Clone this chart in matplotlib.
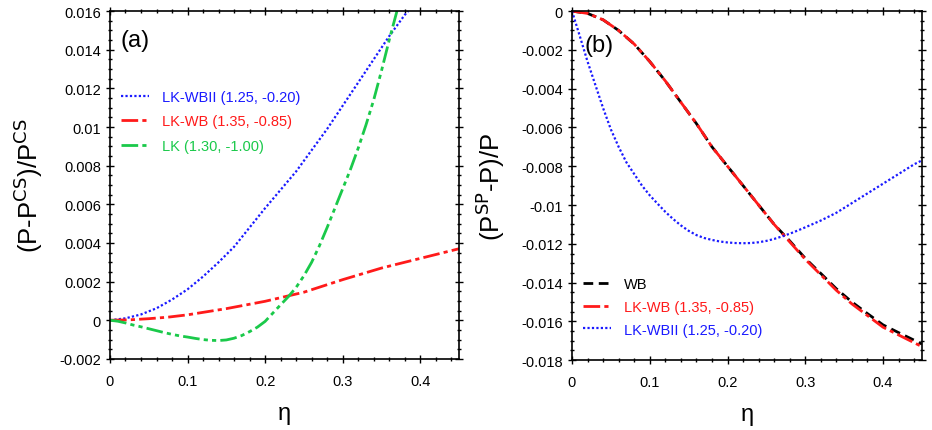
import matplotlib
matplotlib.use('Agg')
import matplotlib.pyplot as plt
from matplotlib.ticker import MultipleLocator, FuncFormatter

plt.rcParams['font.family'] = ['Liberation Sans', 'DejaVu Sans']
plt.rcParams['axes.unicode_minus'] = False

# panel (a): (P - P^CS)/P^CS
eta_wbii_a = [0, 0.02, 0.04, 0.06, 0.08, 0.10, 0.12, 0.14, 0.16, 0.18, 0.20, 0.22, 0.24,
              0.26, 0.28, 0.30, 0.32, 0.34, 0.36, 0.38, 0.3846]
dev_wbii_a = [0, 0.0001, 0.0003, 0.00062, 0.00107, 0.0016, 0.00226, 0.0030, 0.0038,
              0.0048, 0.0058, 0.00675, 0.0077, 0.0088, 0.0099, 0.0111, 0.0123, 0.0135,
              0.0147, 0.0158, 0.0160]

eta_lkwb_a = [0, 0.025, 0.05, 0.075, 0.10, 0.15, 0.20, 0.25, 0.30, 0.35, 0.40, 0.45]
dev_lkwb_a = [0, 0.00002, 0.00008, 0.00016, 0.00028, 0.0006, 0.00098, 0.00145, 0.0021,
              0.0027, 0.0032, 0.0037]

eta_lk_a = [0, 0.01, 0.02, 0.03, 0.04, 0.05, 0.06, 0.07, 0.08, 0.09, 0.10, 0.11, 0.12,
            0.13, 0.14, 0.15, 0.16, 0.17, 0.18, 0.19, 0.20, 0.21, 0.22, 0.23, 0.24, 0.25,
            0.26, 0.27, 0.28, 0.29, 0.30, 0.31, 0.32, 0.33, 0.34, 0.35, 0.36, 0.37]
dev_lk_a = [0, -0.00005, -0.00014, -0.00025, -0.00034, -0.00044, -0.00054, -0.00064,
            -0.00073, -0.00081, -0.00087, -0.00094, -0.001, -0.00104, -0.00105, -0.00102,
            -0.00093, -0.00079, -0.00059, -0.00036, -0.00006, 0.00037, 0.0008, 0.00122,
            0.0017, 0.0023, 0.0030, 0.00385, 0.0048, 0.0058, 0.0068, 0.0078, 0.0089,
            0.0101, 0.0114, 0.0129, 0.0145, 0.0160]

# panel (b): (P^SP - P)/P
eta_b = [0, 0.02, 0.04, 0.06, 0.08, 0.10, 0.12, 0.14, 0.16, 0.18, 0.20, 0.22, 0.24,
         0.26, 0.28, 0.30, 0.32, 0.34, 0.36, 0.38, 0.40, 0.42, 0.44, 0.45]
dev_wb_b = [0, -0.00012, -0.00045, -0.001, -0.0017, -0.0026, -0.0036, -0.0047, -0.0058,
            -0.0070, -0.0080, -0.0090, -0.0100, -0.0110, -0.01185, -0.01275, -0.01353,
            -0.01432, -0.01500, -0.01560, -0.01618, -0.01658, -0.01697, -0.01717]
dev_lkwb_b = [0, -0.00012, -0.00045, -0.001, -0.0017, -0.0026, -0.0036, -0.0047, -0.0058,
              -0.0070, -0.0080, -0.0090, -0.0100, -0.0110, -0.0119, -0.0128, -0.0136,
              -0.0144, -0.0151, -0.0157, -0.0163, -0.0167, -0.0171, -0.0173]

eta_wbii_b = [0, 0.01, 0.02, 0.03, 0.04, 0.05, 0.06, 0.07, 0.08, 0.09, 0.10, 0.11, 0.12,
              0.13, 0.14, 0.15, 0.16, 0.17, 0.18, 0.19, 0.20, 0.21, 0.22, 0.23, 0.24,
              0.25, 0.26, 0.27, 0.28, 0.29, 0.30, 0.32, 0.34, 0.36, 0.38, 0.40, 0.42,
              0.44, 0.45]
dev_wbii_b = [0, -0.00128, -0.0026, -0.0038, -0.005, -0.0061, -0.007, -0.0078, -0.0084,
              -0.0090, -0.0095, -0.00993, -0.01035, -0.01072, -0.01105, -0.01133,
              -0.01155, -0.0117, -0.0118, -0.01188, -0.01193, -0.01196, -0.01197,
              -0.01196, -0.01192, -0.01185, -0.01175, -0.01162, -0.01148, -0.01132,
              -0.01115, -0.0108, -0.0104, -0.0099, -0.0094, -0.0089, -0.0084, -0.0079,
              -0.0077]

BLUE = '#1a1aff'
RED = '#ff1a1a'
GREEN = '#1ac94a'


def fmt(v, pos):
    v = round(v, 6)
    if v == 0:
        return '0'
    return '%g' % v


def style_axes(ax, ymajor, yminor):
    ax.set_xlim(0, 0.45)
    ax.xaxis.set_major_locator(MultipleLocator(0.1))
    ax.xaxis.set_minor_locator(MultipleLocator(0.02))
    ax.yaxis.set_major_locator(MultipleLocator(ymajor))
    ax.yaxis.set_minor_locator(MultipleLocator(yminor))
    ax.xaxis.set_major_formatter(FuncFormatter(fmt))
    ax.yaxis.set_major_formatter(FuncFormatter(fmt))
    ax.tick_params(which='both', direction='inout', top=True, right=True,
                   labelsize=10.5, width=1.0)
    ax.tick_params(which='major', length=6)
    ax.tick_params(which='minor', length=3)
    ax.tick_params(axis='x', pad=8)
    for s in ax.spines.values():
        s.set_linewidth(1.2)
    ax.set_xlabel('η', fontsize=17, labelpad=10)


def color_legend(leg):
    for txt, ln in zip(leg.get_texts(), leg.get_lines()):
        txt.set_color(ln.get_color())


fig = plt.figure(figsize=(9.32, 4.31), dpi=100)
ax1 = fig.add_axes([0.118, 0.165, 0.3745, 0.807])
ax2 = fig.add_axes([0.6137, 0.162, 0.3755, 0.81])

ax1.plot(eta_wbii_a, dev_wbii_a, color=BLUE, lw=1.6, linestyle=(0, (1, 1)),
         label='LK-WBII (1.25, -0.20)')
ax1.plot(eta_lkwb_a, dev_lkwb_a, color=RED, lw=2.0, linestyle=(0, (6, 1.5, 1.5, 1.5)),
         label='LK-WB (1.35, -0.85)')
ax1.plot(eta_lk_a, dev_lk_a, color=GREEN, lw=2.0,
         linestyle=(0, (6, 1.5, 1.5, 1.5, 1.5, 1.5)), label='LK (1.30, -1.00)')
ax1.set_ylim(-0.002, 0.016)
style_axes(ax1, 0.002, 0.0005)
ax1.set_ylabel('(P-P$^{\\rm CS}$)/P$^{\\rm CS}$', fontsize=18.5, labelpad=10)
ax1.text(0.03, 0.9, '(a)', transform=ax1.transAxes, fontsize=17)
leg1 = ax1.legend(loc='upper left', bbox_to_anchor=(-0.005, 0.81), frameon=False,
                  fontsize=10.5, handlelength=1.9, labelspacing=0.7, handletextpad=0.9)
color_legend(leg1)

ax2.plot(eta_b, dev_wb_b, color='black', lw=2.0, linestyle=(0, (3.5, 2)), label='WB')
ax2.plot(eta_b, dev_lkwb_b, color=RED, lw=2.0, linestyle=(0, (6, 1.5, 1.5, 1.5)),
         label='LK-WB (1.35, -0.85)')
ax2.plot(eta_wbii_b, dev_wbii_b, color=BLUE, lw=1.6, linestyle=(0, (1, 1)),
         label='LK-WBII (1.25, -0.20)')
ax2.set_ylim(-0.018, 0)
style_axes(ax2, 0.002, 0.0005)
ax2.set_ylabel('(P$^{\\rm SP}$-P)/P', fontsize=18.5, labelpad=10)
ax2.text(0.035, 0.885, '(b)', transform=ax2.transAxes, fontsize=17)
leg2 = ax2.legend(loc='lower left', bbox_to_anchor=(-0.005, 0.03), frameon=False,
                  fontsize=10.5, handlelength=1.9, labelspacing=0.6, handletextpad=0.9)
color_legend(leg2)

fig.savefig('out.png', dpi=100)
